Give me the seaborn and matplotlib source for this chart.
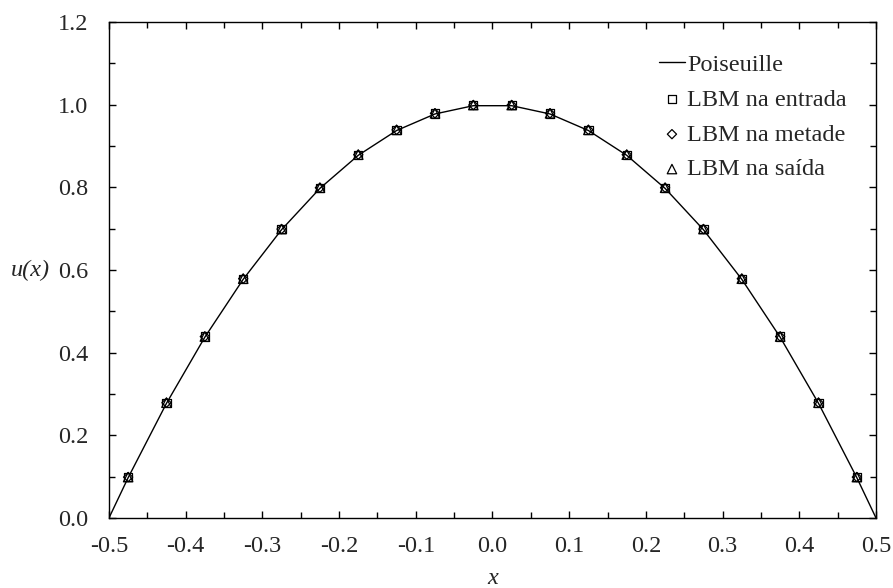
import numpy as np
import pandas as pd
import matplotlib
matplotlib.use("Agg")
import matplotlib.pyplot as plt
from matplotlib.ticker import MultipleLocator, FormatStrFormatter
import seaborn as sns

# perfil analitico
x_poiseuille = [-0.5, -0.475, -0.425, -0.375, -0.325, -0.275, -0.225, -0.175, -0.125, -0.075, -0.025,
                0.025, 0.075, 0.125, 0.175, 0.225, 0.275, 0.325, 0.375, 0.425, 0.475, 0.5]
u_poiseuille = [0.0, 0.0975, 0.2775, 0.4375, 0.5775, 0.6975, 0.7975, 0.8775, 0.9375, 0.9775, 0.9975,
                0.9975, 0.9775, 0.9375, 0.8775, 0.7975, 0.6975, 0.5775, 0.4375, 0.2775, 0.0975, 0.0]

# pontos LBM
x_lbm = [-0.475, -0.425, -0.375, -0.325, -0.275, -0.225, -0.175, -0.125, -0.075, -0.025,
         0.025, 0.075, 0.125, 0.175, 0.225, 0.275, 0.325, 0.375, 0.425, 0.475]
u_entrada = [0.099, 0.279, 0.439, 0.579, 0.699, 0.799, 0.879, 0.939, 0.979, 0.999,
             0.999, 0.979, 0.939, 0.879, 0.799, 0.699, 0.579, 0.439, 0.279, 0.099]
u_metade = [0.099, 0.279, 0.439, 0.579, 0.699, 0.799, 0.879, 0.939, 0.979, 0.999,
            0.999, 0.979, 0.939, 0.879, 0.799, 0.699, 0.579, 0.439, 0.279, 0.099]
u_saida = [0.099, 0.279, 0.439, 0.579, 0.699, 0.799, 0.879, 0.939, 0.979, 0.999,
           0.999, 0.979, 0.939, 0.879, 0.799, 0.699, 0.579, 0.439, 0.279, 0.099]

sns.set_theme(style="ticks")
plt.rcParams['font.family'] = ['Liberation Serif', 'DejaVu Serif']
plt.rcParams['axes.unicode_minus'] = False

FS = 17.5

fig = plt.figure(figsize=(8.93, 5.88), dpi=100)
ax = fig.add_axes([0.122, 0.119, 0.859, 0.8436])

df_line = pd.DataFrame({'x': x_poiseuille, 'u': u_poiseuille})
sns.lineplot(data=df_line, x='x', y='u', ax=ax, color='black', linewidth=1.0,
             label='Poiseuille', sort=False)

series = [('LBM na entrada', u_entrada, 's', 36),
          ('LBM na metade', u_metade, 'D', 22),
          ('LBM na saída', u_saida, '^', 46)]
for nome, valores, marcador, tam in series:
    df = pd.DataFrame({'x': x_lbm, 'u': valores})
    sns.scatterplot(data=df, x='x', y='u', ax=ax, marker=marcador, s=tam,
                    facecolor='none', edgecolor='black', linewidth=0.9, label=nome, zorder=3)

ax.set_xlim(-0.5, 0.5)
ax.set_ylim(0.0, 1.2)
ax.xaxis.set_major_locator(MultipleLocator(0.1))
ax.xaxis.set_minor_locator(MultipleLocator(0.05))
ax.yaxis.set_major_locator(MultipleLocator(0.2))
ax.yaxis.set_minor_locator(MultipleLocator(0.1))
ax.xaxis.set_major_formatter(FormatStrFormatter('%.1f'))
ax.yaxis.set_major_formatter(FormatStrFormatter('%.1f'))
ax.tick_params(which='both', direction='in', top=True, right=True, labelsize=FS, color='black')
ax.tick_params(which='major', length=5, width=1)
ax.tick_params(which='minor', length=4, width=1)
ax.tick_params(axis='x', pad=13)
ax.tick_params(axis='y', pad=15)
for sp in ax.spines.values():
    sp.set_visible(True)
    sp.set_linewidth(1.0)
    sp.set_color('black')

ax.set_xlabel('x', fontsize=FS, style='italic')
ax.xaxis.set_label_coords(0.5, -0.10)
ax.set_ylabel('u(x)', fontsize=FS, style='italic', rotation=0, ha='center', va='center')
ax.yaxis.set_label_coords(-0.102, 0.5)

leg = ax.legend(loc='upper left', bbox_to_anchor=(0.717, 0.936), frameon=False, fontsize=FS,
                handlelength=1.07, handletextpad=0.1, labelspacing=0.53,
                borderaxespad=0, borderpad=0)

fig.savefig('out.png', dpi=100)
